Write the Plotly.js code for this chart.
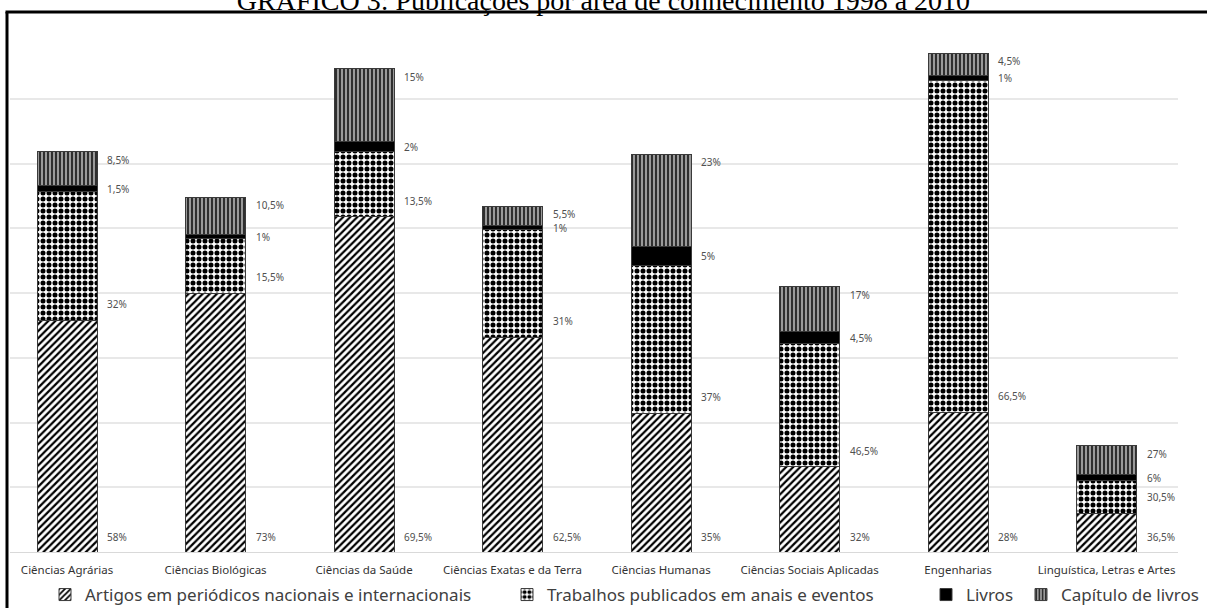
<!DOCTYPE html>
<html>
<head>
<meta charset="utf-8">
<script src="https://cdn.plot.ly/plotly-3.0.1.min.js"></script>
<style>
html,body{margin:0;padding:0;background:#fff;}
#chart{width:1207px;height:608px;}
</style>
</head>
<body>
<div id="chart"></div>
<script>
// Categories (areas of knowledge)
const categories = ['Ciências Agrárias','Ciências Biológicas','Ciências da Saúde','Ciências Exatas e da Terra','Ciências Humanas','Ciências Sociais Aplicadas','Engenharias','Linguística, Letras e Artes'];

// Estimated publication counts per type
const artigos   = [179, 200, 259, 166, 107, 66, 108, 30];
const trabalhos = [ 99,  42,  50,  83, 114, 95, 256, 25];
const livros    = [  5,   3,   8,   3,  15,  9,   4,  5];
const capitulos = [ 26,  29,  56,  15,  71, 35,  17, 22];

// Percentage labels as printed on the chart
const artigosLbl   = ['58%','73%','69,5%','62,5%','35%','32%','28%','36,5%'];
const trabalhosLbl = ['32%','15,5%','13,5%','31%','37%','46,5%','66,5%','30,5%'];
const livrosLbl    = ['1,5%','1%','2%','1%','5%','4,5%','1%','6%'];
const capitulosLbl = ['8,5%','10,5%','15%','5,5%','23%','17%','4,5%','27%'];

const seriesNames = ['Artigos em periódicos nacionais e internacionais','Trabalhos publicados em anais e eventos','Livros','Capítulo de livros'];

const outline = {color:'#3a3a3a', width:1};
const traces = [
  {type:'bar', name:seriesNames[0], x:categories, y:artigos, legend:'legend',
   marker:{color:'#ffffff', line:outline, pattern:{shape:'/', fgcolor:'#000000', bgcolor:'#ffffff', size:5, solidity:0.45}}},
  {type:'bar', name:seriesNames[1], x:categories, y:trabalhos, legend:'legend2',
   marker:{color:'#ffffff', line:outline, pattern:{shape:'.', fgcolor:'#000000', bgcolor:'#ffffff', size:6, solidity:0.55}}},
  {type:'bar', name:seriesNames[2], x:categories, y:livros, legend:'legend3',
   marker:{color:'#000000', line:outline}},
  {type:'bar', name:seriesNames[3], x:categories, y:capitulos, legend:'legend4',
   marker:{color:'#8a8a8a', line:outline, pattern:{shape:'|', fgcolor:'#000000', bgcolor:'#9a9a9a', size:4, solidity:0.35}}}
];
traces.forEach(t => { t.hoverinfo = 'x+y+name'; });

const lblFont = {family:'Noto Sans, sans-serif', size:10, color:'#505050'};
const annotations = [];
categories.forEach((c, i) => {
  const b1 = artigos[i], b2 = b1 + trabalhos[i], b3 = b2 + livros[i], b4 = b3 + capitulos[i];
  const common = {x:c, xref:'x', yref:'y', xanchor:'left', yanchor:'middle', xshift:38, showarrow:false, font:lblFont};
  annotations.push(Object.assign({}, common, {y:0, yshift:15, text:artigosLbl[i]}));
  annotations.push(Object.assign({}, common, {y:b1, yshift:16, text:trabalhosLbl[i]}));
  annotations.push(Object.assign({}, common, {y:(b2 + b3) / 2, text:livrosLbl[i]}));
  annotations.push(Object.assign({}, common, {y:b4, yshift:-8, text:capitulosLbl[i]}));
});

const legFont = {family:'Noto Sans, sans-serif', size:17, color:'#404040'};
function leg(px){
  return {orientation:'h', xref:'container', yref:'container', x:px/1207, y:(608-595)/608,
          xanchor:'left', yanchor:'middle', font:legFont, bgcolor:'rgba(0,0,0,0)', borderwidth:0};
}

const layout = {
  width:1207, height:608,
  margin:{l:10, r:29, t:34, b:56},
  paper_bgcolor:'#ffffff', plot_bgcolor:'#ffffff',
  barmode:'stack', bargap:0.596,
  title:{text:'GRÁFICO 3: Publicações por área de conhecimento 1998 a 2010',
         font:{family:'Liberation Serif, serif', size:28, color:'#000'},
         x:0.5, xanchor:'center', xref:'container', yref:'container', y:1.0, yanchor:'middle'},
  xaxis:{type:'category', range:[-0.384, 7.481], showline:true, linecolor:'#d9d9d9', linewidth:1,
         ticks:'', tickfont:{family:'Noto Sans, sans-serif', size:11.5, color:'#333333'}, ticklabelstandoff:7,
         showgrid:false, fixedrange:true},
  yaxis:{range:[0, 400], dtick:50, showgrid:true, gridcolor:'#e8e8e8', gridwidth:2,
         showticklabels:false, zeroline:false, ticks:'', fixedrange:true},
  showlegend:true,
  legend:leg(45),
  legend2:leg(507),
  legend3:leg(926),
  legend4:leg(1021),
  annotations:annotations,
  shapes:[
    {type:'line', xref:'paper', yref:'paper', x0:-0.00257, x1:-0.00257, y0:-0.12, y1:1.0425, line:{color:'#000', width:3}},
    {type:'line', xref:'paper', yref:'paper', x0:-0.00386, x1:1.03, y0:1.0425, y1:1.0425, line:{color:'#000', width:3}}
  ]
};

Plotly.newPlot('chart', traces, layout, {displayModeBar:false, staticPlot:true});
</script>
</body>
</html>
